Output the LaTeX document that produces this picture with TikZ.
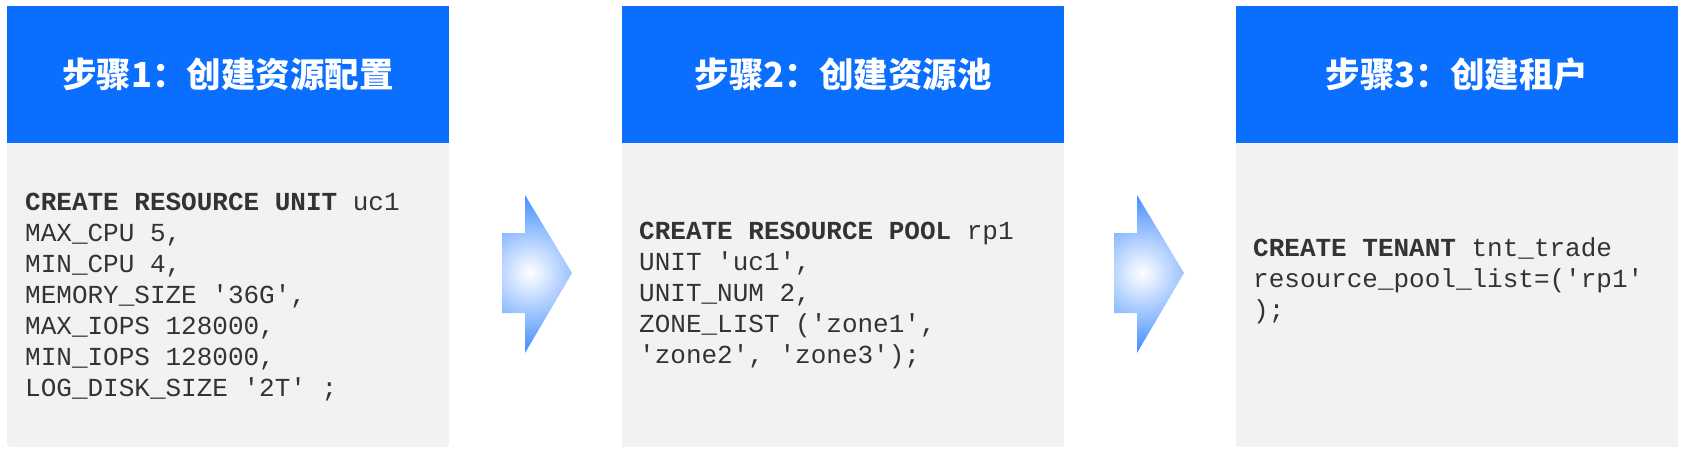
\documentclass[tikz,border=0pt]{standalone}
\usepackage{fontspec}
\setmonofont{Liberation Mono}
\newfontfamily\cjk{Noto Sans CJK SC}
\definecolor{hdr}{HTML}{0A6EFF}
\definecolor{bodyg}{HTML}{F2F2F2}
\definecolor{codec}{HTML}{333333}
\definecolor{arrowc}{HTML}{3A88FF}
\tikzset{
  hdrbox/.style={anchor=north west, minimum width=442pt, minimum height=137pt, fill=hdr, inner sep=0pt, text=white, font=\cjk\bfseries\fontsize{34.5}{40}\selectfont},
  bodybox/.style={anchor=north west, minimum width=442pt, minimum height=304pt, fill=bodyg, inner sep=0pt},
  codetext/.style={anchor=base west, align=left, inner sep=0pt, text=codec, font=\ttfamily\fontsize{26}{31}\selectfont},
  flowarrow/.style={inner color=white, outer color=arrowc}
}
\begin{document}
\begin{tikzpicture}[x=1pt,y=-1pt]
\useasboundingbox[fill=white] (0,0) rectangle (1687,455);
% boxes
\node[bodybox, rounded corners=4pt] (b1) at (7,143) {};
\fill[bodyg] (7,143) rectangle (449,160);
\node[hdrbox] (h1) at (7,6) {步骤1：创建资源配置};
\node[bodybox] (b2) at (622,143) {};
\node[hdrbox] (h2) at (622,6) {步骤2：创建资源池};
\node[bodybox] (b3) at (1236,143) {};
\node[hdrbox] (h3) at (1236,6) {步骤3：创建租户};
% code (anchor = baseline of the last line)
\node[codetext] (c1) at (25,396) {\textbf{CREATE RESOURCE UNIT} uc1\\MAX\_CPU 5,\\MIN\_CPU 4,\\MEMORY\_SIZE '36G',\\MAX\_IOPS 128000,\\MIN\_IOPS 128000,\\LOG\_DISK\_SIZE '2T' ;};
\node[codetext] (c2) at (639,363) {\textbf{CREATE RESOURCE POOL} rp1\\UNIT 'uc1',\\UNIT\_NUM 2,\\ZONE\_LIST ('zone1',\\'zone2', 'zone3');};
\node[codetext] (c3) at (1253,318) {\textbf{CREATE TENANT} tnt\_trade\\resource\_pool\_list=('rp1'\\);};
% arrows
\foreach \dx/\nm in {0/a1,612/a2}{
  \begin{scope}[xshift=\dx pt]
    \begin{scope}
      \clip (502,233) -- (525,233) -- (525,195) -- (572,273) -- (525,353) -- (525,313) -- (502,313) -- cycle;
      \shade[flowarrow] (448,191) rectangle (612,355);
    \end{scope}
    \coordinate (\nm) at (530,273);
  \end{scope}
}
\end{tikzpicture}
\end{document}
